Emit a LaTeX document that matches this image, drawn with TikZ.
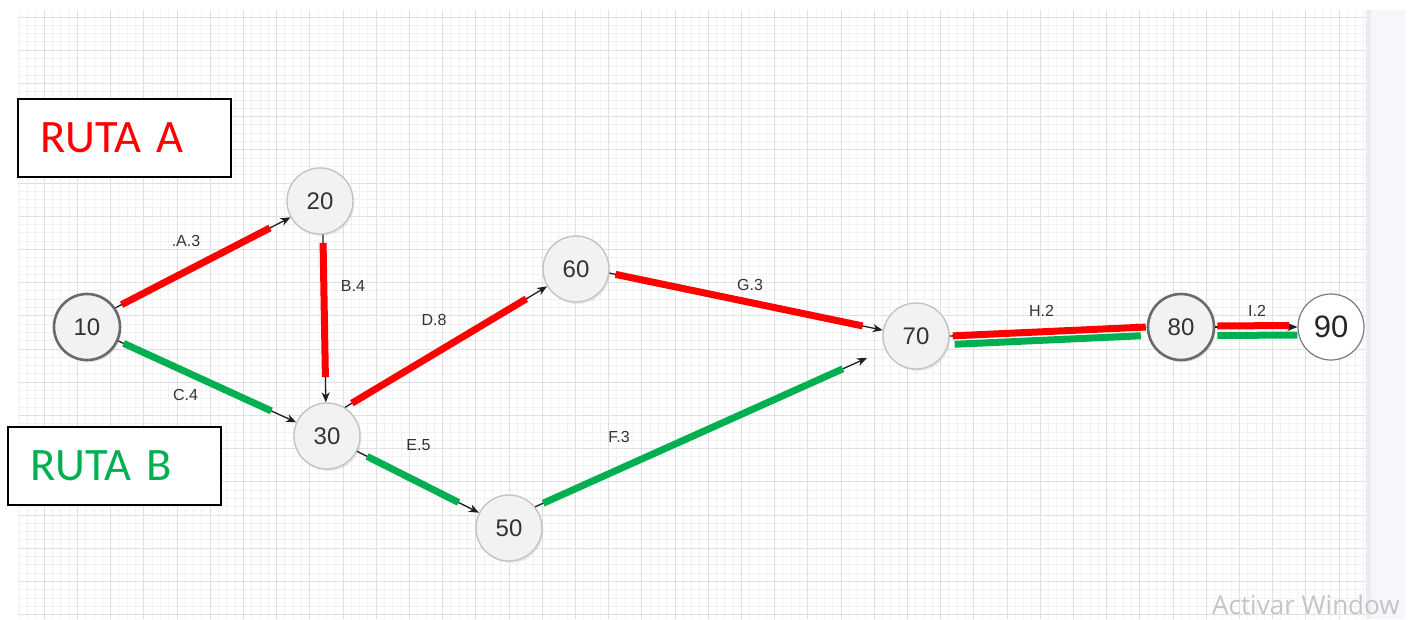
\documentclass[tikz,border=0pt]{standalone}
\usepackage{fontspec}
\setmainfont{Liberation Sans}
\newfontfamily\calib{Carlito}[WordSpace=0.6]
\newfontfamily\opens{Open Sans}
\usetikzlibrary{arrows.meta,calc,shadows}
\definecolor{rred}{HTML}{FF0000}
\definecolor{rgreen}{HTML}{00B050}
\definecolor{nfill}{HTML}{F2F2F2}
\definecolor{nline}{HTML}{C4C4C4}
\definecolor{ndark}{HTML}{6A6A6A}
\definecolor{nwhite}{HTML}{7A7A7A}
\definecolor{ntext}{HTML}{333333}
\definecolor{ink}{HTML}{1E1E1E}
\definecolor{minorgrid}{HTML}{F1F1F1}
\definecolor{majorgrid}{HTML}{E0E0E0}
\definecolor{panel}{HTML}{F5F7FA}
\definecolor{paneledge}{HTML}{EAECEF}
\definecolor{wmark}{HTML}{C4C4C4}
\begin{document}
\begin{tikzpicture}[x=1pt,y=-1pt,
  evtbase/.style={circle, minimum size=66pt, inner sep=0pt, fill=nfill, draw=nline,
    line width=1.4pt, text=ntext, font=\fontsize{24}{28}\selectfont},
  evt/.style={evtbase, drop shadow={opacity=0.15, shadow xshift=1.5pt, shadow yshift=-2pt}},
  evtdark/.style={evtbase, draw=ndark, line width=2.6pt,
    drop shadow={opacity=0.25, shadow xshift=1.5pt, shadow yshift=-2pt}},
  evtwhite/.style={evtbase, fill=white, draw=nwhite, line width=1.2pt,
    text=black!85, font=\fontsize{31}{36}\selectfont},
  arr/.style={draw=ink, line width=1.3pt, -{Stealth[length=10pt,width=8pt,inset=3pt]}},
  rt/.style={line width=7pt},
  redrt/.style={rt, draw=rred},
  greenrt/.style={rt, draw=rgreen},
  lbl/.style={font=\fontsize{16}{19}\selectfont, text=ntext, inner sep=0pt},
  routebox/.style={draw=black, line width=2pt, fill=white, minimum height=78pt,
    text width=169pt, inner xsep=22pt, inner ysep=0pt, align=left,
    font=\calib\fontsize{46.5}{56}\selectfont},
  mingrid/.style={draw=minorgrid, line width=1pt},
  majgrid/.style={draw=majorgrid, line width=1pt}
]
\useasboundingbox (0,0) rectangle (1416,619);
\fill[white] (0,0) rectangle (1416,619);
% grid
\begin{scope}
  \clip (18,10) rectangle (1366,619);
  \foreach \k in {0,...,163} {\draw[mingrid] ({11+8.3*\k},10) -- ({11+8.3*\k},619);}
  \foreach \k in {0,...,74} {\draw[mingrid] (18,{8.7+8.3*\k}) -- (1366,{8.7+8.3*\k});}
  \foreach \k in {0,...,41} {\draw[majgrid] ({11+33.2*\k},10) -- ({11+33.2*\k},619);}
  \foreach \k in {0,...,18} {\draw[majgrid] (18,{17+33.2*\k}) -- (1366,{17+33.2*\k});}
\end{scope}
\fill[panel] (1366,10) rectangle (1405,619);
\fill[paneledge] (1366,10) rectangle (1371,619);

% route boxes
\node[routebox, text=rred] (rutaA) at (124.5,138) {RUTA A};
\node[routebox, text=rgreen] (rutaB) at (114.5,466) {RUTA B};

% events
\node[evtdark] (n10) at (87,327) {10};
\node[evt] (n20) at (320,201) {20};
\node[evt] (n30) at (327,436) {30};
\node[evt] (n60) at (576,269) {60};
\node[evt] (n50) at (509,528) {50};
\node[evt] (n70) at (916,336) {70};
\node[evtdark] (n80) at (1181,327) {80};
\node[evtwhite] (n90) at (1331,327) {90};

% activity arrows
\draw[arr] (n10.34) -- (n20.209);
\draw[arr] (n20.275) -- (n30.92);
\draw[arr] (n10.336) -- (n30.156);
\draw[arr] (n30.58) -- (n60.211);
\draw[arr] (n30.333) -- (n50.153);
\draw[arr, shorten >=20pt] (n50.39) -- (n70);
\draw[arr] (n60.353) -- (n70.170);
\draw[arr] (n70.0) -- (n80.180);
\draw[arr] (n80.0) -- (n90.180);

% route highlights
\draw[redrt] ($(n10.34)!0.035!(n20.209)$) -- ($(n10.34)!0.883!(n20.209)$);
\draw[redrt] ($(n20.275)!0.05!(n30.92)$) -- ($(n20.275)!0.85!(n30.92)$);
\draw[greenrt] ($(n10.336)!0.03!(n30.156)$) -- ($(n10.336)!0.86!(n30.156)$);
\draw[redrt] ($(n30.58)!0.035!(n60.211)$) -- ($(n30.58)!0.897!(n60.211)$);
\draw[greenrt] ($(n30.333)!0.083!(n50.153)$) -- ($(n30.333)!0.833!(n50.153)$);
\draw[greenrt] ($(n50.39)!0.021!(n70)$) -- ($(n50.39)!0.808!(n70)$);
\draw[redrt] ($(n60.353)!0.022!(n70.170)$) -- ($(n60.353)!0.926!(n70.170)$);
\draw[redrt] ($(n70.0)!0.015!(n80.180)$) -- ($(n70.0)!0.995!(n80.180)$);
\draw[greenrt] ($(n70.0)!0.025!(n80.180)+(0,8.5)$) -- ($(n70.0)!0.97!(n80.180)+(0,8.5)$);
\draw[redrt] ($(n80.0)!0.025!(n90.180)+(0,-1)$) -- ($(n80.0)!0.9!(n90.180)+(0,-1.5)$);
\draw[greenrt] ($(n80.0)!0.025!(n90.180)+(0,8.5)$) -- ($(n80.0)!1.0!(n90.180)+(0,8)$);

% activity labels
\node[lbl] (lA) at (186,240.5) {.A.3};
\node[lbl] (lB) at (353,285.5) {B.4};
\node[lbl] (lC) at (185.5,394.5) {C.4};
\node[lbl] (lD) at (434,319.5) {D.8};
\node[lbl] (lE) at (418.5,445) {E.5};
\node[lbl] (lF) at (619,437) {F.3};
\node[lbl] (lG) at (750,284.5) {G.3};
\node[lbl] (lH) at (1041.5,311) {H.2};
\node[lbl] (lI) at (1257,311) {I.2};

% watermark
\node[anchor=base west, inner sep=0pt, text=wmark, font=\opens\fontsize{26}{30}\selectfont] (wm) at (1212,614) {Activar Window};
\end{tikzpicture}
\end{document}
